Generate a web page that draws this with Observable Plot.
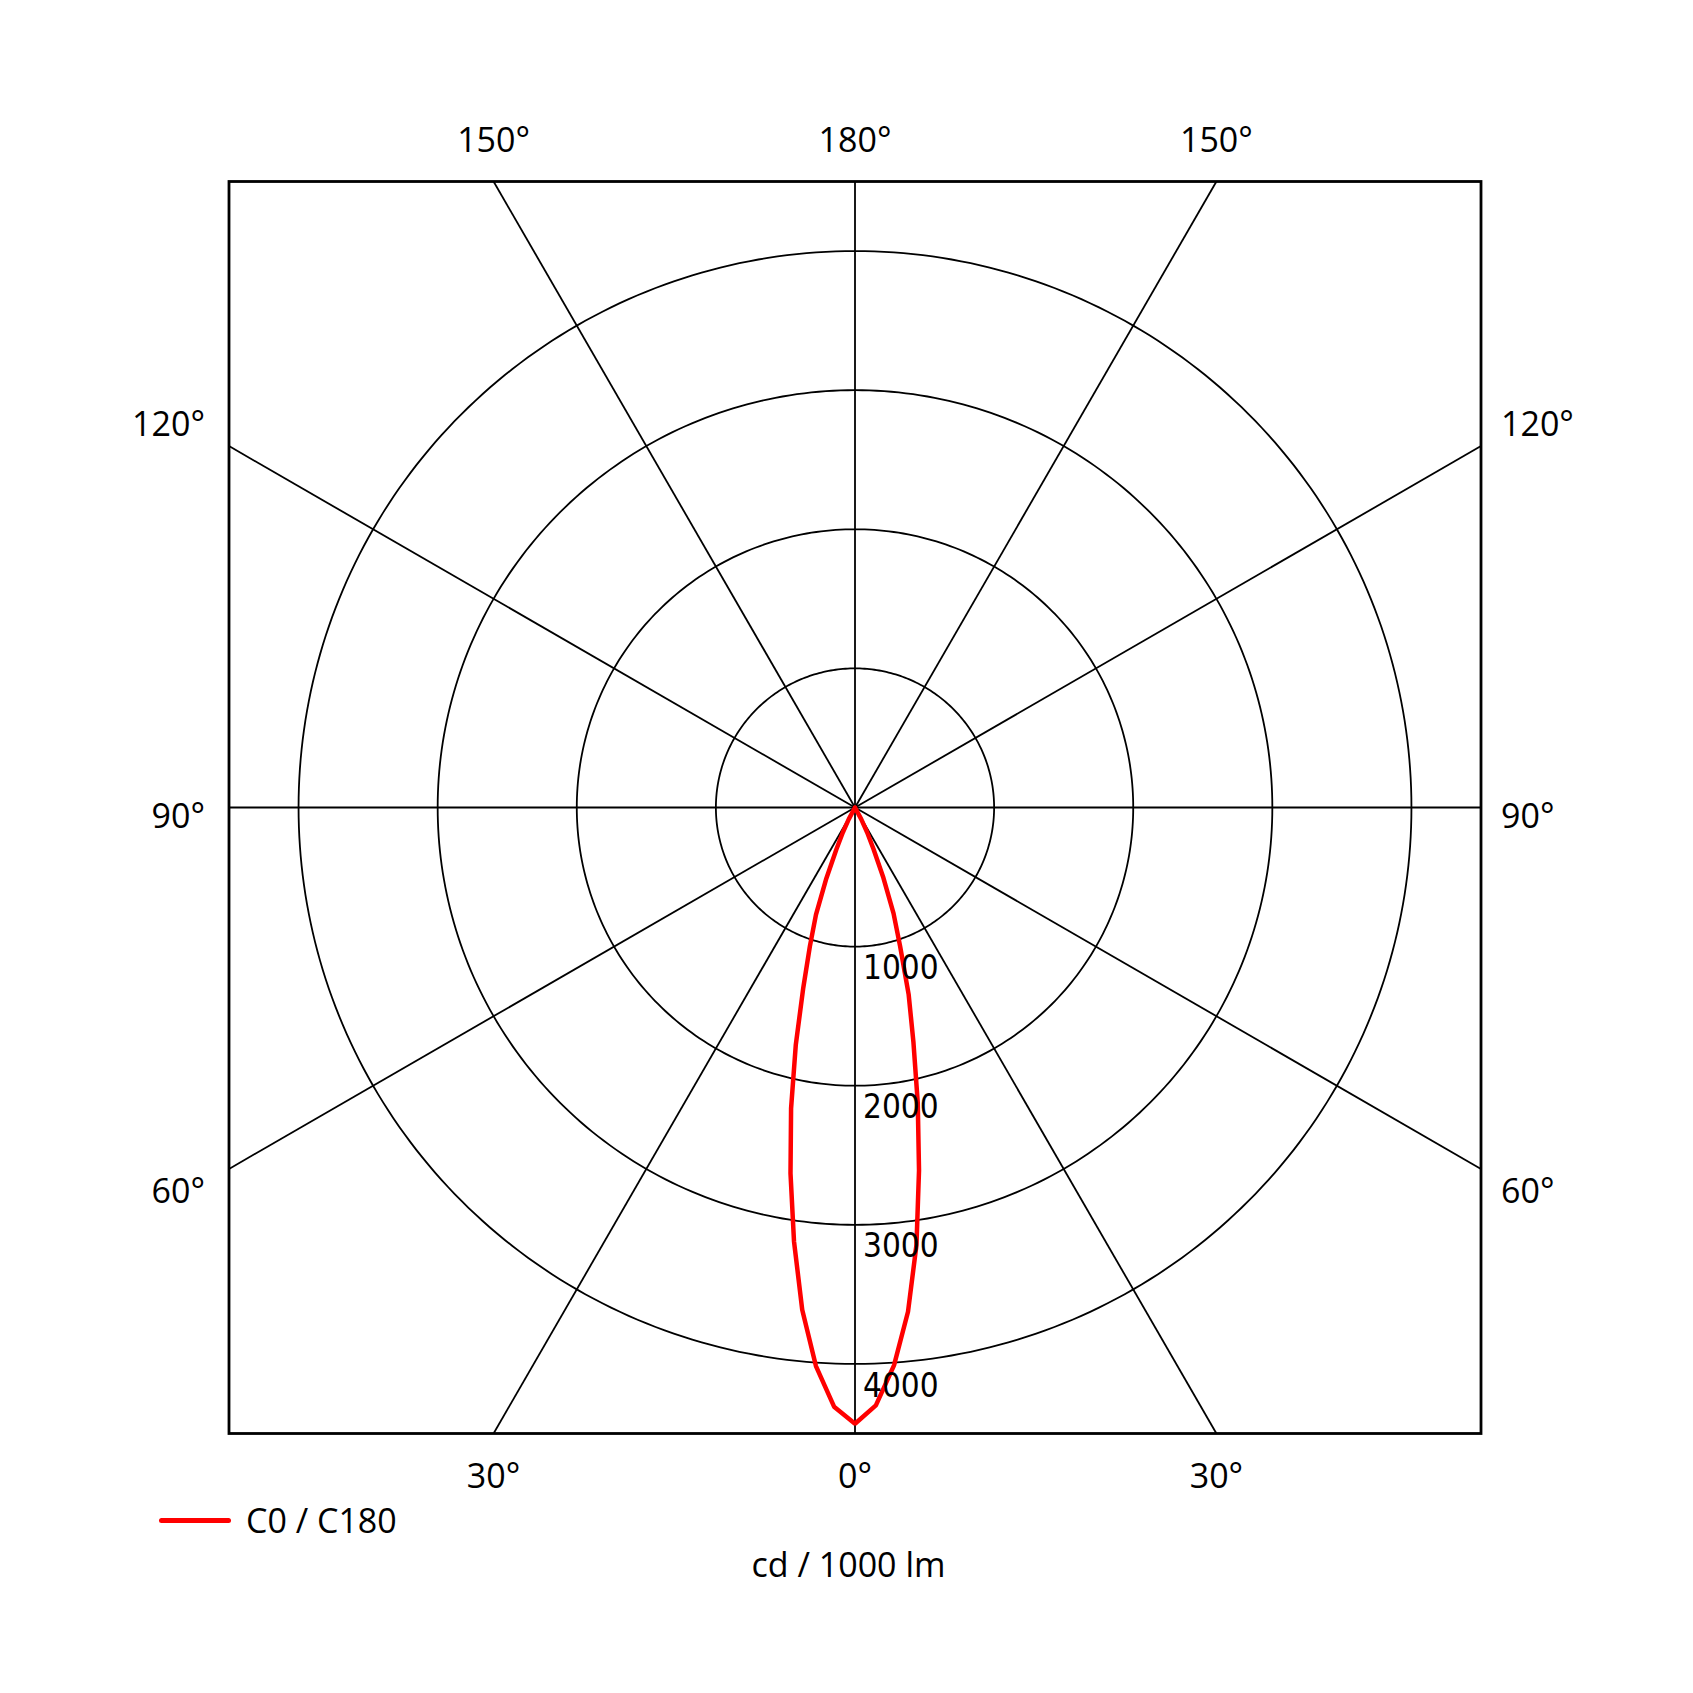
<!DOCTYPE html>
<html>
<head>
<meta charset="utf-8">
<script src="https://cdn.jsdelivr.net/npm/d3@7"></script>
<script src="https://cdn.jsdelivr.net/npm/@observablehq/plot@0.6"></script>
<style>
  html, body { margin: 0; padding: 0; background: #fff; }
  #wrap { position: relative; width: 1693px; height: 1693px; font-family: "Open Sans", sans-serif; color: #000; }
  .lg-line { position: absolute; left: 159px; top: 1517.5px; width: 72px; height: 5px; background: #ff0000; border-radius: 3px; }
  .lg-text { position: absolute; left: 246px; top: 1520px; transform: translateY(-50%); font-size: 34px; line-height: 1; white-space: nowrap; }
  .caption { position: absolute; left: 848.5px; top: 1563.5px; transform: translate(-50%, -50%); font-size: 34px; line-height: 1; white-space: nowrap; }
</style>
</head>
<body>
<div id="wrap">
  <div id="chart"></div>
  <div class="lg-line"></div>
  <div class="lg-text" id="lgText"></div>
  <div class="caption" id="caption"></div>
</div>
<script>
// ---- data ----
const angles = [0, 2, 4, 6, 8, 10, 12, 14, 16, 18, 20, 22, 24, 26, 28, 30];
const c0   = [4430, 4300, 4020, 3645, 3175, 2650, 2170, 1735, 1400, 1050, 810, 545, 325, 200, 95, 0];
const c180 = [4430, 4310, 4025, 3630, 3150, 2670, 2210, 1760, 1350, 1050, 820, 550, 330, 200, 95, 0];
const ringValues = [1000, 2000, 3000, 4000];
const spokeAngles = [0, 30, 60, 90, 120, 150, 180, 210, 240, 270, 300, 330];
const topLabelAngles = [-150, 180, 150];
const bottomLabelAngles = [-30, 0, 30];
const sideLabelAngles = [120, 90, 60];
const seriesName = "C0 / C180";
const unitLabel = "cd / 1000 lm";
const limit = 4500;

// ---- derived geometry ----
const rad = d => d * Math.PI / 180;
const polar = (a, r) => ({x: r * Math.sin(rad(a)), y: -r * Math.cos(rad(a))});
const edge = a => {
  const s = Math.sin(rad(a)), c = Math.cos(rad(a));
  const t = limit / Math.max(Math.abs(s), Math.abs(c));
  return {x: s * t, y: -c * t};
};

const spokes = spokeAngles.map(a => ({x1: 0, y1: 0, x2: edge(a).x, y2: edge(a).y}));
const rings = ringValues.flatMap(v => d3.range(0, 361, 1).map(a => ({ring: v, ...polar(a, v)})));
const curve = [
  ...angles.map((a, i) => polar(-a, c180[i])).reverse(),
  ...angles.slice(1).map((a, i) => polar(a, c0[i + 1]))
];
const deg = a => Math.abs(a) + "°";
const topLabels = topLabelAngles.map(a => ({...edge(a), text: deg(a)}));
const bottomLabels = bottomLabelAngles.map(a => ({...edge(a), text: deg(a)}));
const sideDy = {120: -21, 90: 10, 60: 23};
const leftLabels = sideLabelAngles.map(a => ({...edge(-a), text: a + "°", dy: sideDy[a]}));
const rightLabels = sideLabelAngles.map(a => ({...edge(a), text: a + "°", dy: sideDy[a]}));
const ringLabels = ringValues.map(v => ({x: 0, y: -v, text: String(v)}));

const font = "'Open Sans', sans-serif";
const sideMarks = (data, anchor, dx) => data.map(d =>
  Plot.text([d], {x: "x", y: "y", text: "text", textAnchor: anchor, dx, dy: d.dy, fontSize: 34, fontFamily: font, fill: "#000"})
);

const chart = Plot.plot({
  width: 1693,
  height: 1500,
  marginLeft: 228.5,
  marginRight: 212.5,
  marginTop: 181,
  marginBottom: 67,
  x: {domain: [-limit, limit], axis: null},
  y: {domain: [-limit, limit], axis: null},
  style: {background: "#fff", fontFamily: font},
  marks: [
    Plot.line(rings, {x: "x", y: "y", z: "ring", stroke: "#000", strokeWidth: 1.8}),
    Plot.link(spokes, {x1: "x1", y1: "y1", x2: "x2", y2: "y2", stroke: "#000", strokeWidth: 1.8}),
    Plot.line(curve, {x: "x", y: "y", stroke: "#ff0000", strokeWidth: 4.5, strokeLinejoin: "miter", curve: "linear"}),
    Plot.frame({stroke: "#000", strokeWidth: 2.8}),
    Plot.text(ringLabels, {x: "x", y: "y", text: "text", textAnchor: "start", dx: 8, dy: 22, fontSize: 33, fontFamily: "'DejaVu Sans Condensed', 'DejaVu Sans', sans-serif", fontStretch: "condensed", fill: "#000"}),
    Plot.text(topLabels, {x: "x", y: "y", text: "text", dy: -40, fontSize: 34, fontFamily: font, fill: "#000"}),
    Plot.text(bottomLabels, {x: "x", y: "y", text: "text", dy: 44, fontSize: 34, fontFamily: font, fill: "#000"}),
    ...sideMarks(leftLabels, "end", -24),
    ...sideMarks(rightLabels, "start", 20)
  ]
});
document.getElementById("chart").appendChild(chart);
document.getElementById("lgText").textContent = seriesName;
document.getElementById("caption").textContent = unitLabel;
</script>
</body>
</html>
